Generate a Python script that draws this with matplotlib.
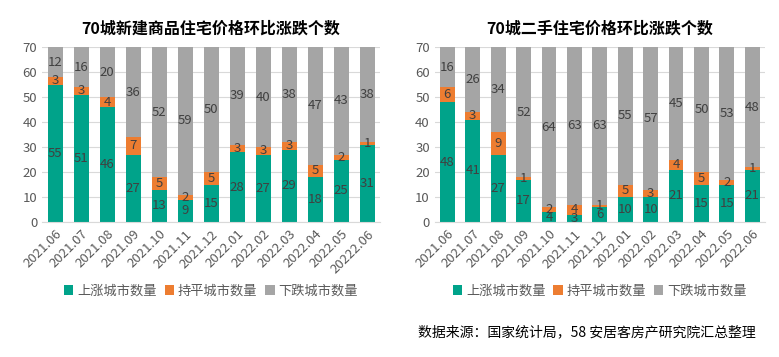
import matplotlib
matplotlib.use("Agg")
import matplotlib.pyplot as plt
import numpy as np

plt.rcParams['font.family'] = ['Noto Sans CJK SC', 'DejaVu Sans']

# %% Data
months_left = ['2021.06', '2021.07', '2021.08', '2021.09', '2021.10', '2021.11', '2021.12',
               '2022.01', '2022.02', '2022.03', '2022.04', '2022.05', '20222.06']
months_right = ['2021.06', '2021.07', '2021.08', '2021.09', '2021.10', '2021.11', '2021.12',
                '2022.01', '2022.02', '2022.03', '2022.04', '2022.05', '2022.06']

new_up = [55, 51, 46, 27, 13, 9, 15, 28, 27, 29, 18, 25, 31]
new_flat = [3, 3, 4, 7, 5, 2, 5, 3, 3, 3, 5, 2, 1]
new_down = [12, 16, 20, 36, 52, 59, 50, 39, 40, 38, 47, 43, 38]

sec_up = [48, 41, 27, 17, 4, 3, 6, 10, 10, 21, 15, 15, 21]
sec_flat = [6, 3, 9, 1, 2, 4, 1, 5, 3, 4, 5, 2, 1]
sec_down = [16, 26, 34, 52, 64, 63, 63, 55, 57, 45, 50, 53, 48]

series_names = ['上涨城市数量', '持平城市数量', '下跌城市数量']
colors = ['#00A38A', '#ED7D31', '#A5A5A5']


def draw_panel(ax, labels, up, flat, down, title):
    x = np.arange(len(labels))
    w = 0.58
    bottom = np.zeros(len(labels))
    for vals, c, name in zip([up, flat, down], colors, series_names):
        bars = ax.bar(x, vals, w, bottom=bottom, color=c, label=name, zorder=2)
        ax.bar_label(bars, labels=[str(v) for v in vals], label_type='center',
                     fontsize=9.5, color='#404040')
        bottom += np.array(vals)
    ax.set_xlim(-0.5, len(labels) - 0.5)
    ax.set_ylim(0, 70)
    ax.set_yticks(range(0, 71, 10))
    ax.set_xticks(x)
    ax.set_xticklabels(labels, rotation=45, ha='right', rotation_mode='anchor')
    ax.tick_params(axis='both', labelsize=9.5, colors='#595959', length=0)
    ax.tick_params(axis='x', pad=4)
    ax.grid(axis='y', color='#D9D9D9', linewidth=0.8, zorder=0)
    for s in ['top', 'right', 'left']:
        ax.spines[s].set_visible(False)
    ax.spines['bottom'].set_color('#D9D9D9')
    ax.set_title(title, fontsize=11.5, fontweight='bold', color='black', pad=10)
    ax.legend(loc='upper center', bbox_to_anchor=(0.5, -0.29), ncol=3, frameon=False,
              fontsize=9.5, handlelength=0.7, handleheight=0.7, handletextpad=0.3,
              columnspacing=0.6, labelcolor='#595959')


fig = plt.figure(figsize=(7.79, 3.57), dpi=100)
ax1 = fig.add_axes([0.054, 0.378, 0.434, 0.49])
ax2 = fig.add_axes([0.558, 0.378, 0.424, 0.49])

draw_panel(ax1, months_left, new_up, new_flat, new_down, '70城新建商品住宅价格环比涨跌个数')
draw_panel(ax2, months_right, sec_up, sec_flat, sec_down, '70城二手住宅价格环比涨跌个数')

fig.text(0.97, 0.07, '数据来源：国家统计局，58 安居客房产研究院汇总整理', ha='right', va='center',
         fontsize=10, color='black')

fig.savefig('out.png', dpi=100)
